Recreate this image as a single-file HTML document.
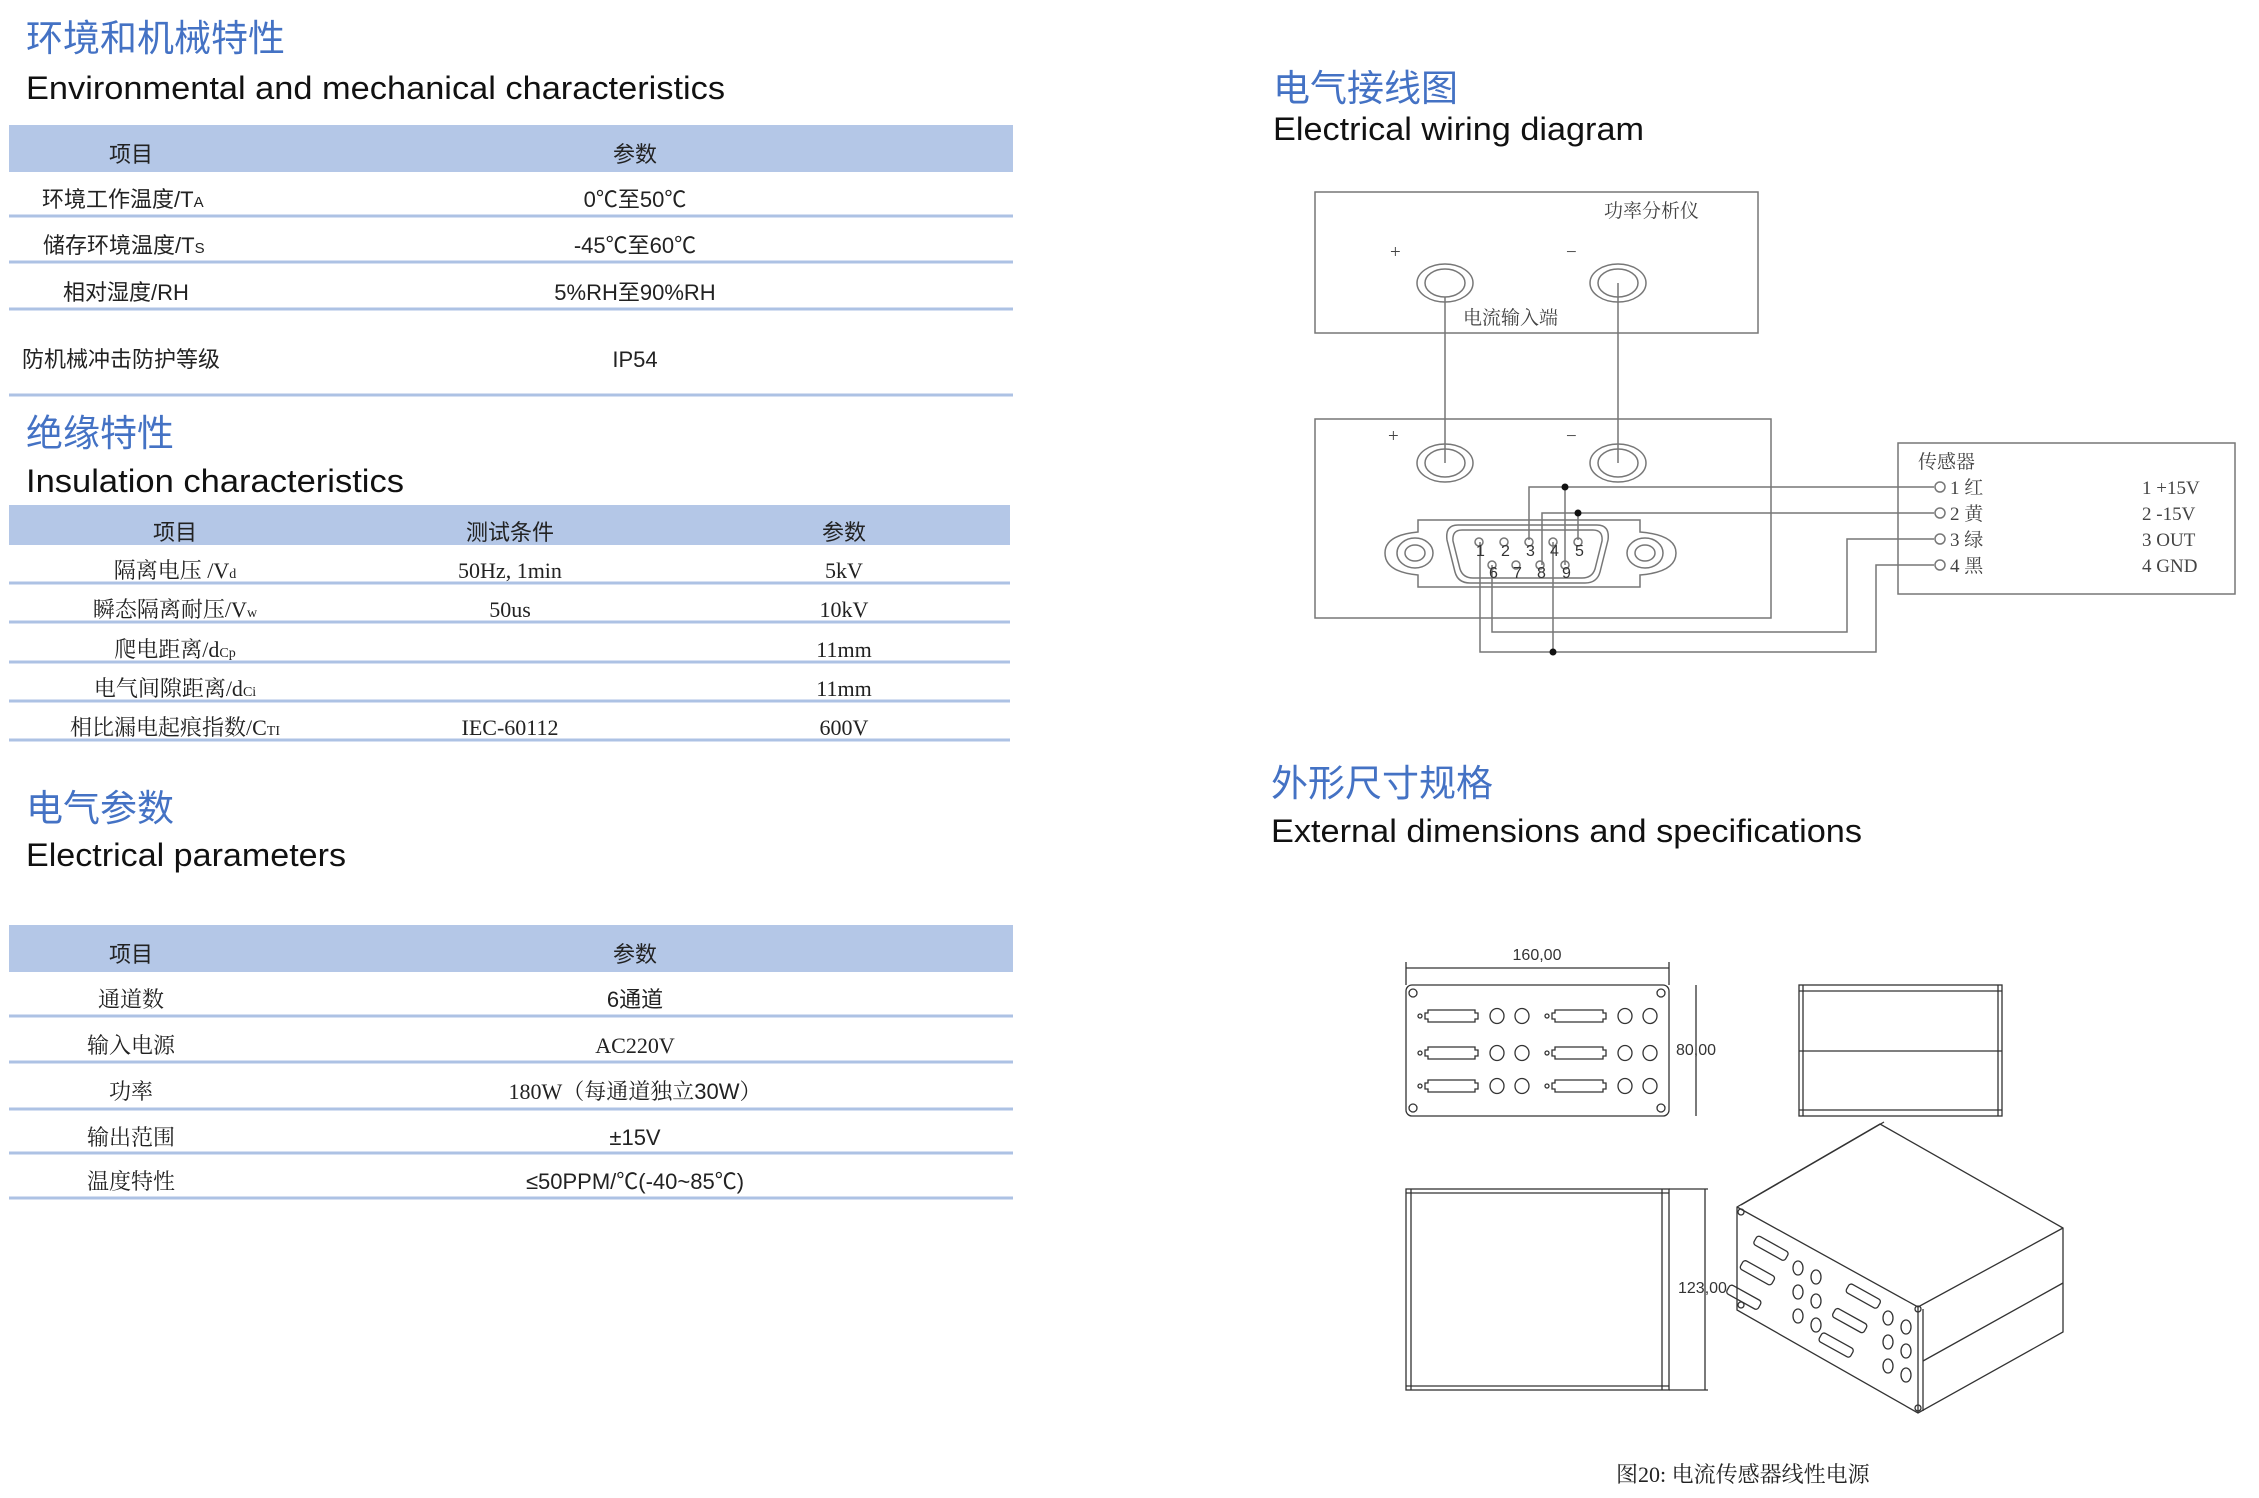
<!DOCTYPE html>
<html><head><meta charset="utf-8"><style>
html,body{margin:0;padding:0;background:#fff;}
svg{display:block;}
.cjt{font-family:"Liberation Sans","Noto Sans CJK SC",sans-serif;fill:#4472c4;font-size:37px;}
.ent{font-family:"Liberation Sans","Noto Sans CJK SC",sans-serif;fill:#111;font-size:32px;}
.t{font-family:"Liberation Sans","Noto Sans CJK SC",sans-serif;fill:#222;font-size:22px;}
.s{font-family:"Liberation Serif","Noto Serif CJK SC",serif;fill:#222;font-size:22px;}
.w{font-family:"Liberation Serif","Noto Serif CJK SC",serif;fill:#444;font-size:19px;}
.d{font-family:"Liberation Sans",sans-serif;fill:#333;font-size:16px;}
</style></head><body>
<svg width="2259" height="1498" viewBox="0 0 2259 1498" xmlns="http://www.w3.org/2000/svg">
<rect width="2259" height="1498" fill="#fff"/>

<!-- Section 1 -->
<text class="cjt" x="26" y="51">环境和机械特性</text>
<text class="ent" x="26" y="99" textLength="699" lengthAdjust="spacingAndGlyphs">Environmental and mechanical characteristics</text>
<rect x="9" y="125" width="1004" height="47" fill="#b4c7e7"/>
<text class="t" x="131" y="162" text-anchor="middle">项目</text>
<text class="t" x="635" y="162" text-anchor="middle">参数</text>
<g stroke="#adc2e4" stroke-width="3">
<line x1="9" y1="216" x2="1013" y2="216"/><line x1="9" y1="262" x2="1013" y2="262"/>
<line x1="9" y1="309" x2="1013" y2="309"/><line x1="9" y1="395" x2="1013" y2="395"/>
</g>
<text class="t" x="42" y="207">环境工作温度/T<tspan font-size="15">A</tspan></text>
<text class="t" x="635" y="207" text-anchor="middle">0℃至50℃</text>
<text class="t" x="43" y="253">储存环境温度/T<tspan font-size="15">S</tspan></text>
<text class="t" x="635" y="253" text-anchor="middle">-45℃至60℃</text>
<text class="t" x="63" y="300">相对湿度/RH</text>
<text class="t" x="635" y="300" text-anchor="middle">5%RH至90%RH</text>
<text class="t" x="22" y="367">防机械冲击防护等级</text>
<text class="t" x="635" y="367" text-anchor="middle">IP54</text>

<!-- Section 2 -->
<text class="cjt" x="26" y="446">绝缘特性</text>
<text class="ent" x="26" y="492" textLength="378" lengthAdjust="spacingAndGlyphs">Insulation characteristics</text>
<rect x="9" y="505" width="1001" height="40" fill="#b4c7e7"/>
<text class="t" x="175" y="540" text-anchor="middle">项目</text>
<text class="t" x="510" y="540" text-anchor="middle">测试条件</text>
<text class="t" x="844" y="540" text-anchor="middle">参数</text>
<g stroke="#adc2e4" stroke-width="3">
<line x1="9" y1="583" x2="1010" y2="583"/><line x1="9" y1="622" x2="1010" y2="622"/>
<line x1="9" y1="662" x2="1010" y2="662"/><line x1="9" y1="701" x2="1010" y2="701"/>
<line x1="9" y1="740" x2="1010" y2="740"/>
</g>
<text class="s" x="175" y="578" text-anchor="middle">隔离电压 /V<tspan font-size="14">d</tspan></text>
<text class="s" x="510" y="578" text-anchor="middle">50Hz, 1min</text>
<text class="s" x="844" y="578" text-anchor="middle">5kV</text>
<text class="s" x="175" y="617" text-anchor="middle">瞬态隔离耐压/V<tspan font-size="14">w</tspan></text>
<text class="s" x="510" y="617" text-anchor="middle">50us</text>
<text class="s" x="844" y="617" text-anchor="middle">10kV</text>
<text class="s" x="175" y="657" text-anchor="middle">爬电距离/d<tspan font-size="14">Cp</tspan></text>
<text class="s" x="844" y="657" text-anchor="middle">11mm</text>
<text class="s" x="175" y="696" text-anchor="middle">电气间隙距离/d<tspan font-size="14">Ci</tspan></text>
<text class="s" x="844" y="696" text-anchor="middle">11mm</text>
<text class="s" x="175" y="735" text-anchor="middle">相比漏电起痕指数/C<tspan font-size="14">TI</tspan></text>
<text class="s" x="510" y="735" text-anchor="middle">IEC-60112</text>
<text class="s" x="844" y="735" text-anchor="middle">600V</text>

<!-- Section 3 -->
<text class="cjt" x="26" y="821">电气参数</text>
<text class="ent" x="26" y="866" textLength="320" lengthAdjust="spacingAndGlyphs">Electrical parameters</text>
<rect x="9" y="925" width="1004" height="47" fill="#b4c7e7"/>
<text class="t" x="131" y="962" text-anchor="middle">项目</text>
<text class="t" x="635" y="962" text-anchor="middle">参数</text>
<g stroke="#adc2e4" stroke-width="3">
<line x1="9" y1="1016" x2="1013" y2="1016"/><line x1="9" y1="1062" x2="1013" y2="1062"/>
<line x1="9" y1="1109" x2="1013" y2="1109"/><line x1="9" y1="1153" x2="1013" y2="1153"/>
<line x1="9" y1="1198" x2="1013" y2="1198"/>
</g>
<text class="s" x="131" y="1007" text-anchor="middle">通道数</text>
<text class="t" x="635" y="1007" text-anchor="middle">6通道</text>
<text class="s" x="131" y="1053" text-anchor="middle">输入电源</text>
<text class="s" x="635" y="1053" text-anchor="middle">AC220V</text>
<text class="s" x="131" y="1099" text-anchor="middle">功率</text>
<text class="s" x="635" y="1099" text-anchor="middle">180W（每通道独立<tspan font-family="Liberation Sans">30W</tspan>）</text>
<text class="s" x="131" y="1145" text-anchor="middle">输出范围</text>
<text class="t" x="635" y="1145" text-anchor="middle">±15V</text>
<text class="s" x="131" y="1189" text-anchor="middle">温度特性</text>
<text class="t" x="635" y="1189" text-anchor="middle">≤50PPM/℃(-40~85℃)</text>

<!-- Wiring diagram -->
<text class="cjt" x="1273" y="101">电气接线图</text>
<text class="ent" x="1273" y="140" textLength="371" lengthAdjust="spacingAndGlyphs">Electrical wiring diagram</text>

<g fill="none" stroke="#777" stroke-width="1.5">
<rect x="1315" y="192" width="443" height="141"/>
<rect x="1315" y="419" width="456" height="199"/>
<rect x="1898" y="443" width="337" height="151"/>
<ellipse cx="1445" cy="283" rx="28" ry="19"/><ellipse cx="1445" cy="283" rx="20" ry="14"/>
<ellipse cx="1618" cy="283" rx="28" ry="19"/><ellipse cx="1618" cy="283" rx="20" ry="14"/>
<ellipse cx="1445" cy="463" rx="28" ry="19"/><ellipse cx="1445" cy="463" rx="20" ry="14"/>
<ellipse cx="1618" cy="463" rx="28" ry="19"/><ellipse cx="1618" cy="463" rx="20" ry="14"/>
<line x1="1445" y1="297" x2="1445" y2="463"/>
<line x1="1618" y1="283" x2="1618" y2="463"/>
<!-- DB9 flange -->
<path d="M1418 520 H1640 V532 Q1676 535 1676 553 Q1676 572 1640 575 V587 H1418 V575 Q1385 572 1385 553 Q1385 535 1418 532 Z"/>
<path d="M1458 525 H1597 Q1610 525 1608 540 L1600 572 Q1597 583 1585 583 H1470 Q1458 583 1455 572 L1447 540 Q1445 525 1458 525 Z"/>
<path d="M1462 530 H1593 Q1603 530 1602 541 L1595 569 Q1592 578 1582 578 H1473 Q1463 578 1460 569 L1453 541 Q1452 530 1462 530 Z"/>
<ellipse cx="1415" cy="553" rx="18" ry="15"/><ellipse cx="1415" cy="553" rx="10" ry="8"/>
<ellipse cx="1645" cy="553" rx="18" ry="15"/><ellipse cx="1645" cy="553" rx="10" ry="8"/>
<circle cx="1479" cy="542" r="4"/><circle cx="1504" cy="542" r="4"/><circle cx="1529" cy="542" r="4"/><circle cx="1553" cy="542" r="4"/><circle cx="1578" cy="542" r="4"/>
<circle cx="1492" cy="565" r="4"/><circle cx="1516" cy="565" r="4"/><circle cx="1540" cy="565" r="4"/><circle cx="1565" cy="565" r="4"/>
<!-- wires -->
<polyline points="1529,540 1529,487 1934,487"/>
<line x1="1565" y1="487" x2="1565" y2="565"/>
<polyline points="1542,565 1542,513 1934,513"/>
<line x1="1578" y1="513" x2="1578" y2="540"/>
<polyline points="1492,565 1492,632 1847,632 1847,539 1934,539"/>
<polyline points="1480,542 1480,652 1876,652 1876,565 1934,565"/>
<line x1="1553" y1="542" x2="1553" y2="652"/>
<circle cx="1940" cy="487" r="5"/><circle cx="1940" cy="513" r="5"/><circle cx="1940" cy="539" r="5"/><circle cx="1940" cy="565" r="5"/>
</g>
<g fill="#111"><circle cx="1565" cy="487" r="3.5"/><circle cx="1578" cy="513" r="3.5"/><circle cx="1553" cy="652" r="3.5"/></g>
<g class="d" font-size="9" fill="#555">
<text x="1476" y="556">1</text><text x="1501" y="556">2</text><text x="1526" y="556">3</text><text x="1550" y="556">4</text><text x="1575" y="556">5</text>
<text x="1489" y="578">6</text><text x="1513" y="578">7</text><text x="1537" y="578">8</text><text x="1562" y="578">9</text>
</g>
<text class="w" x="1604" y="217">功率分析仪</text>
<text class="w" x="1463" y="324">电流输入端</text>
<text class="w" x="1390" y="258" font-size="16">+</text>
<text class="w" x="1566" y="258" font-size="16">−</text>
<text class="w" x="1388" y="442" font-size="16">+</text>
<text class="w" x="1566" y="442" font-size="16">−</text>
<text class="w" x="1918" y="468">传感器</text>
<text class="w" x="1950" y="494">1  红</text>
<text class="w" x="1950" y="520">2  黄</text>
<text class="w" x="1950" y="546">3  绿</text>
<text class="w" x="1950" y="572">4  黑</text>
<text class="w" x="2142" y="494" font-size="17">1  +15V</text>
<text class="w" x="2142" y="520" font-size="17">2  -15V</text>
<text class="w" x="2142" y="546" font-size="17">3  OUT</text>
<text class="w" x="2142" y="572" font-size="17">4  GND</text>

<!-- External dims -->
<text class="cjt" x="1271" y="796">外形尺寸规格</text>
<text class="ent" x="1271" y="842" textLength="591" lengthAdjust="spacingAndGlyphs">External dimensions and specifications</text>

<g fill="none" stroke="#333" stroke-width="1.3">
<line x1="1406" y1="968" x2="1669" y2="968"/>
<line x1="1406" y1="962" x2="1406" y2="985"/><line x1="1669" y1="962" x2="1669" y2="985"/>
<rect x="1406" y="985" width="263" height="131" rx="6"/>
<circle cx="1413" cy="993" r="4"/><circle cx="1661" cy="993" r="4"/><circle cx="1413" cy="1108" r="4"/><circle cx="1661" cy="1108" r="4"/>
<line x1="1696" y1="985" x2="1696" y2="1116"/>
<g id="row">
<circle cx="1420" cy="1016" r="2"/>
<path d="M1428 1010 H1475 V1013 H1478 V1019 H1475 V1022 H1428 V1019 H1425 V1013 H1428 Z"/>
<ellipse cx="1497" cy="1016" rx="7" ry="7.5"/><ellipse cx="1522" cy="1016" rx="7" ry="7.5"/>
<circle cx="1547" cy="1016" r="2"/>
<path d="M1555 1010 H1603 V1013 H1606 V1019 H1603 V1022 H1555 V1019 H1552 V1013 H1555 Z"/>
<ellipse cx="1625" cy="1016" rx="7" ry="7.5"/><ellipse cx="1650" cy="1016" rx="7" ry="7.5"/>
</g>
<use href="#row" y="37"/><use href="#row" y="70"/>
<rect x="1799" y="985" width="203" height="131"/>
<line x1="1799" y1="991" x2="2002" y2="991"/><line x1="1799" y1="1051" x2="2002" y2="1051"/><line x1="1799" y1="1110" x2="2002" y2="1110"/>
<line x1="1803" y1="985" x2="1803" y2="1116"/><line x1="1998" y1="985" x2="1998" y2="1116"/>
<rect x="1406" y="1189" width="263" height="201"/>
<line x1="1411" y1="1189" x2="1411" y2="1390"/><line x1="1662" y1="1189" x2="1662" y2="1390"/>
<line x1="1406" y1="1193" x2="1669" y2="1193"/><line x1="1406" y1="1386" x2="1669" y2="1386"/>
<line x1="1705" y1="1189" x2="1705" y2="1390"/>
<line x1="1669" y1="1189" x2="1708" y2="1189"/><line x1="1669" y1="1390" x2="1708" y2="1390"/>
<!-- iso box -->
<path d="M1737 1207 L1880 1124 L2063 1228 L2063 1332 L1918 1413 L1737 1310 Z"/>
<path d="M1737 1207 L1918 1307 L2063 1228"/>
<line x1="1918" y1="1307" x2="1918" y2="1413"/>
<line x1="1923" y1="1309" x2="1923" y2="1411"/>
<line x1="1923" y1="1361" x2="2063" y2="1283"/>
<line x1="1741" y1="1205" x2="1884" y2="1122"/>
<g transform="rotate(29 1770 1250)">
<rect x="1752" y="1243" width="36" height="10" rx="3"/>
<rect x="1752" y="1271" width="36" height="10" rx="3"/>
<rect x="1752" y="1299" width="36" height="10" rx="3"/>
</g>
<g transform="rotate(29 1860 1300)">
<rect x="1843" y="1290" width="36" height="10" rx="3"/>
<rect x="1843" y="1318" width="36" height="10" rx="3"/>
<rect x="1843" y="1346" width="36" height="10" rx="3"/>
</g>
<ellipse cx="1798" cy="1268" rx="5" ry="7"/><ellipse cx="1816" cy="1277" rx="5" ry="7"/>
<ellipse cx="1798" cy="1292" rx="5" ry="7"/><ellipse cx="1816" cy="1301" rx="5" ry="7"/>
<ellipse cx="1798" cy="1316" rx="5" ry="7"/><ellipse cx="1816" cy="1325" rx="5" ry="7"/>
<ellipse cx="1888" cy="1318" rx="5" ry="7"/><ellipse cx="1906" cy="1327" rx="5" ry="7"/>
<ellipse cx="1888" cy="1342" rx="5" ry="7"/><ellipse cx="1906" cy="1351" rx="5" ry="7"/>
<ellipse cx="1888" cy="1366" rx="5" ry="7"/><ellipse cx="1906" cy="1375" rx="5" ry="7"/>
<circle cx="1741" cy="1212" r="3"/><circle cx="1741" cy="1305" r="3"/><circle cx="1918" cy="1309" r="3"/><circle cx="1918" cy="1408" r="3"/>
</g>
<text class="d" x="1537" y="960" text-anchor="middle">160,00</text>
<text class="d" x="1676" y="1055">80,00</text>
<text class="d" x="1678" y="1293">123,00</text>
<text class="s" x="1616" y="1482" font-size="19" fill="#555">图20: 电流传感器线性电源</text>
</svg>
</body></html>
